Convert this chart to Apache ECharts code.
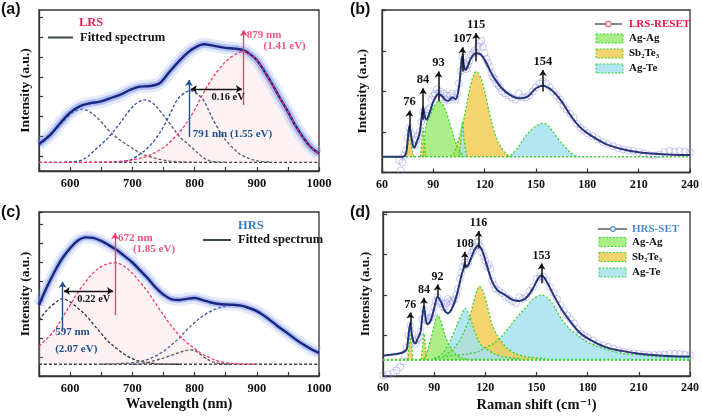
<!DOCTYPE html>
<html><head><meta charset="utf-8">
<script src="https://cdn.jsdelivr.net/npm/echarts@6/dist/echarts.min.js"></script>
<style>html,body{margin:0;padding:0;background:#fff}#c{width:702px;height:418px}</style>
</head><body><div id="c"></div>
<script>
// ---------------- DATA ----------------
const waveTicks = [600, 700, 800, 900, 1000];
const ramanTicks = [60, 90, 120, 150, 180, 210, 240];

// (a) LRS PL spectrum
const aFit = [[550,1.36],[568,1.82],[584,2.41],[600,2.95],[616,3.28],[632,3.42],[648,3.5],[664,3.67],[680,3.84],[696,4.09],[712,4.26],[728,4.29],[744,4.43],[760,5.02],[777,5.61],[790,6.0],[800,6.22],[815,6.4],[830,6.33],[850,6.22],[865,6.18],[880,6.08],[890,5.88],[900,5.6],[912,5.05],[925,4.38],[937,3.7],[950,3.0],[962,2.3],[975,1.68],[987,1.2],[1000,0.88]];
const aBase = [[550,0.44],[1000,0.44]];
const aComp1 = [[550,1.3],[568,1.78],[584,2.33],[600,2.85],[610,3.05],[620,3.12],[632,2.98],[648,2.55],[664,1.99],[680,1.57],[696,1.23],[712,0.92],[728,0.72],[744,0.59],[760,0.5],[777,0.46],[800,0.44]];
const aComp2 = [[590,0.44],[604,0.46],[616,0.52],[628,0.72],[640,1.06],[652,1.4],[664,1.78],[680,2.41],[696,3.08],[708,3.45],[720,3.59],[732,3.45],[744,3.05],[760,2.41],[776,1.73],[788,1.4],[800,1.06],[812,0.72],[824,0.52],[836,0.46],[850,0.44]];
const aComp3 = [[680,0.46],[696,0.55],[708,0.76],[724,1.15],[740,1.73],[756,2.58],[772,3.59],[783,3.92],[793,4.06],[803,3.92],[814,3.59],[830,2.58],[846,1.73],[862,1.15],[878,0.76],[900,0.52],[920,0.46]];
const aComp4 = [[550,0.44],[625,0.44],[650,0.45],[675,0.48],[700,0.56],[725,0.76],[750,1.19],[765,1.6],[782,2.2],[800,3.08],[812,3.8],[825,4.51],[837,5.05],[850,5.52],[865,5.88],[879,6.03],[890,5.88],[900,5.6],[912,5.05],[925,4.38],[937,3.7],[950,3.0],[962,2.3],[975,1.68],[987,1.2],[1000,0.88]];

// (b) LRS-RESET Raman
const bFit = [[60,0.39],[72,0.39],[74,0.47],[75,0.8],[76,1.15],[77,0.93],[78,0.68],[79,0.62],[80,0.72],[82,0.97],[83,1.3],[84,1.61],[85,1.38],[86,1.31],[88,1.5],[90,1.75],[93,1.94],[95,1.89],[97,1.79],[99,1.77],[101,1.85],[103,1.81],[105,2.12],[106,2.53],[107,2.9],[108,2.61],[109,2.53],[110,2.61],[112,2.82],[115,2.94],[117,2.93],[120,2.78],[123,2.53],[125,2.37],[130,2.08],[135,1.91],[140,1.83],[145,1.87],[150,2.08],[154,2.14],[160,2.0],[165,1.75],[170,1.42],[175,1.15],[180,0.97],[190,0.72],[200,0.58],[210,0.5],[220,0.46],[230,0.44],[240,0.43]];
const bMeas = [[70,0.3],[71,0.05],[72,0.25],[73,0.42],[74,0.55],[75,0.85],[76,1.1],[77,0.95],[78,0.7],[79,0.66],[80,0.8],[81,0.9],[82,1.0],[83,1.25],[84,1.5],[85,1.35],[86,1.4],[87,1.55],[88,1.6],[89,1.8],[90,1.9],[91,1.95],[92,2.05],[93,1.95],[94,2.0],[95,1.85],[96,1.95],[97,1.8],[98,1.9],[99,1.78],[100,1.9],[101,1.95],[102,1.85],[103,1.8],[104,1.95],[105,2.2],[106,2.5],[107,2.85],[108,2.7],[109,2.55],[110,2.65],[111,2.75],[112,2.9],[113,2.95],[114,3.0],[115,2.95],[116,3.1],[117,3.2],[118,3.25],[119,3.1],[120,2.95],[121,2.8],[122,2.7],[123,2.6],[124,2.45],[125,2.35],[126,2.3],[127,2.2],[128,2.15],[129,2.1],[130,2.0],[132,1.95],[134,1.9],[136,1.85],[138,1.8],[140,1.95],[142,1.85],[144,1.85],[146,1.9],[148,2.0],[150,2.1],[152,2.2],[154,2.25],[156,2.2],[158,2.1],[160,2.0],[162,1.9],[164,1.8],[166,1.65],[168,1.55],[170,1.45],[172,1.35],[174,1.2],[176,1.1],[178,1.05],[180,0.97],[183,0.9],[186,0.82],[189,0.75],[192,0.7],[195,0.65],[198,0.6],[201,0.57],[204,0.55],[207,0.53],[210,0.5],[213,0.47],[216,0.43],[219,0.42],[222,0.44],[225,0.5],[228,0.53],[231,0.52],[234,0.53],[237,0.52],[240,0.5]];
const bBase = [[60,0.39],[240,0.39]];
const bSb76 = [[73.5,0.39],[75,0.7],[76,1.0],[77,0.7],[78.5,0.39]];
const bSb84 = [[82.5,0.39],[83.4,0.85],[84,1.1],[84.6,0.85],[85.5,0.39]];
const bAg93 = [[84,0.39],[85,0.9],[86,1.2],[88,1.4],[90,1.6],[92,1.73],[93,1.75],[95,1.7],[97,1.55],[99,1.3],[101,1.0],[103,0.75],[105,0.56],[107,0.44],[108,0.39]];
const bTe107 = [[105,0.39],[106,0.75],[107,1.25],[108,0.8],[109.5,0.39]];
const bSb115 = [[100,0.39],[102,0.47],[104,0.7],[106,1.0],[108,1.35],[110,1.8],[112,2.2],[114,2.45],[115,2.49],[116,2.47],[118,2.3],[120,2.0],[122,1.62],[124,1.25],[126,0.95],[128,0.74],[130,0.6],[132,0.48],[134,0.42],[136,0.39]];
const bTe154 = [[133,0.39],[136,0.45],[140,0.65],[144,0.9],[148,1.08],[151,1.17],[154,1.21],[157,1.16],[160,1.0],[165,0.72],[170,0.5],[173,0.41],[175,0.39]];
const bPeaks = [76, 84, 93, 107, 115, 154];
const bArrowLo = [1.05, 1.3, 1.75, 2.49, 2.74, 2.0];
const bArrowHi = [1.53, 2.08, 2.49, 3.09, 3.44, 2.53];

// (c) HRS PL spectrum
const cFit = [[550,3.75],[562,4.65],[575,5.51],[587,6.2],[600,6.75],[612,7.15],[625,7.33],[637,7.3],[650,7.14],[662,6.92],[675,6.66],[687,6.35],[700,6.0],[712,5.6],[725,5.16],[737,4.7],[750,4.3],[762,4.07],[775,4.02],[787,4.08],[800,4.12],[812,4.02],[825,3.9],[837,3.82],[850,3.78],[862,3.77],[875,3.72],[887,3.6],[900,3.43],[912,3.18],[925,2.86],[937,2.55],[950,2.25],[962,1.95],[975,1.66],[987,1.43],[1000,1.22]];
const cBase = [[550,0.62],[1000,0.62]];
const cComp1 = [[550,2.95],[562,3.45],[575,3.84],[587,4.08],[600,3.92],[612,3.6],[625,3.22],[637,2.75],[650,2.25],[662,1.8],[675,1.45],[687,1.15],[700,0.92],[712,0.78],[725,0.7],[737,0.65],[750,0.63],[775,0.62]];
const cComp2 = [[550,1.58],[562,1.95],[575,2.42],[587,3.05],[600,3.75],[612,4.4],[625,4.98],[637,5.45],[650,5.78],[662,5.95],[672,5.99],[687,5.8],[700,5.43],[712,4.98],[725,4.45],[737,3.85],[750,3.22],[762,2.68],[775,2.16],[787,1.78],[800,1.45],[812,1.17],[825,0.95],[837,0.8],[850,0.71],[862,0.66],[875,0.64],[900,0.62]];
const cComp3 = [[700,0.62],[712,0.64],[725,0.72],[740,0.85],[755,1.0],[770,1.18],[783,1.32],[793,1.38],[803,1.3],[815,1.0],[830,0.74],[845,0.65],[860,0.62]];
const cComp4 = [[650,0.63],[675,0.65],[700,0.7],[712,0.76],[725,0.88],[737,1.05],[750,1.3],[762,1.62],[775,2.0],[787,2.42],[800,2.82],[812,3.15],[825,3.4],[837,3.58],[850,3.68],[862,3.74],[875,3.72],[887,3.6],[900,3.43],[912,3.18],[925,2.86],[937,2.55],[950,2.25],[962,1.95],[975,1.66],[987,1.43],[1000,1.22]];

// (d) HRS-SET Raman
const dFit = [[60,0.5],[70,0.56],[73,0.62],[74,0.68],[75,1.01],[76,1.3],[77,1.01],[78,0.83],[79,0.81],[80,0.89],[82,1.09],[83,1.46],[84,1.71],[85,1.42],[86,1.28],[88,1.38],[90,1.67],[92,1.96],[94,1.83],[96,1.63],[98,1.55],[100,1.63],[102,1.83],[104,2.12],[106,2.49],[107,2.62],[108,2.78],[109,2.7],[110,2.74],[112,2.95],[114,3.14],[116,3.22],[118,3.11],[120,2.86],[122,2.58],[124,2.33],[127,2.12],[130,2.04],[133,1.96],[136,1.88],[140,1.85],[144,1.93],[148,2.17],[151,2.41],[153,2.48],[156,2.33],[160,2.0],[165,1.63],[170,1.34],[175,1.08],[180,0.93],[190,0.72],[200,0.62],[210,0.55],[220,0.51],[230,0.49],[240,0.48]];
const dMeas = [[60,0.02],[63,0.04],[66,0.08],[68,0.14],[70,0.22],[72,0.36],[73,0.5],[74,0.7],[75,1.0],[76,1.25],[77,1.05],[78,0.85],[79,0.8],[80,0.9],[81,0.95],[82,1.1],[83,1.4],[84,1.65],[85,1.45],[86,1.35],[87,1.4],[88,1.45],[89,1.55],[90,1.7],[91,1.85],[92,1.95],[93,1.85],[94,1.8],[95,1.7],[96,1.7],[97,1.8],[98,1.9],[99,1.85],[100,1.8],[101,1.85],[102,1.9],[103,2.0],[104,2.15],[105,2.4],[106,2.55],[107,2.7],[108,2.8],[109,2.75],[110,2.8],[111,2.95],[112,3.05],[113,3.1],[114,3.2],[115,3.3],[116,3.3],[117,3.2],[118,3.05],[119,2.95],[120,2.85],[121,2.7],[122,2.75],[123,2.65],[124,2.35],[125,2.25],[126,2.15],[128,2.1],[130,2.05],[132,1.95],[134,1.9],[136,1.85],[138,1.8],[140,1.95],[142,1.9],[144,1.95],[146,2.1],[148,2.2],[150,2.4],[152,2.45],[154,2.45],[156,2.35],[158,2.2],[160,2.05],[162,1.9],[164,1.75],[166,1.6],[168,1.5],[170,1.4],[172,1.3],[174,1.15],[176,1.05],[178,1.0],[180,0.95],[183,0.88],[186,0.8],[189,0.75],[192,0.72],[195,0.68],[198,0.63],[201,0.6],[204,0.58],[207,0.56],[210,0.55],[213,0.53],[216,0.52],[219,0.52],[222,0.52],[225,0.53],[228,0.55],[231,0.55],[234,0.54],[237,0.53],[240,0.52]];
const dBase = [[60,0.4],[240,0.4]];
const dSb76 = [[74.5,0.4],[75.3,0.75],[76,1.01],[76.7,0.75],[77.5,0.4]];
const dSb84 = [[82.5,0.4],[83.3,0.8],[84,1.05],[84.7,0.8],[85.5,0.4]];
const dAg92 = [[84,0.42],[86,0.62],[88,0.9],[90,1.25],[92,1.5],[94,1.35],[96,1.05],[98,0.82],[100,0.68],[103,0.52],[106,0.45],[110,0.41]];
const dTe108 = [[90,0.43],[94,0.52],[97,0.68],[100,0.92],[103,1.22],[106,1.52],[108,1.67],[110.5,1.5],[113,1.2],[115.5,0.9],[118,0.74],[121.5,0.64],[125,0.55],[130,0.48],[140,0.43]];
const dSb116 = [[96,0.5],[100,0.62],[104,0.81],[107,1.05],[110,1.34],[113,1.8],[115,2.1],[116.5,2.22],[119,2.05],[121,1.75],[124,1.26],[127,1.0],[129.5,0.85],[133,0.68],[138,0.55],[145,0.47],[155,0.43]];
const dTe153 = [[90,0.44],[100,0.5],[110,0.55],[116,0.6],[120,0.7],[125,0.81],[130,1.0],[135,1.26],[140,1.52],[145,1.75],[148,1.9],[153,2.0],[156,1.95],[160,1.75],[165,1.38],[170,1.14],[175,0.97],[180,0.83],[190,0.67],[200,0.56],[210,0.52],[220,0.48],[240,0.45]];
const dPeaks = [76, 84, 92, 108, 116, 153];
const dArrowLo = [1.26, 1.67, 1.96, 2.66, 3.15, 2.29];
const dArrowHi = [1.57, 1.93, 2.26, 3.07, 3.58, 2.78];

// ---------------- STYLE / BUILD ----------------
const SERIF = "'Liberation Serif','Times New Roman','DejaVu Serif',serif";
const SANS = "'Liberation Sans',Arial,sans-serif";
const GREEN = 'rgba(150,232,105,0.8)', YELLOW = 'rgba(243,200,75,0.8)', CYAN = 'rgba(165,226,240,0.85)';
const EDGE = '#36d62a';

const chart = echarts.init(document.getElementById('c'));

function ln(g, data, color, width, type, extra) {
  return Object.assign({type:'line', xAxisIndex:g, yAxisIndex:g, data:data, showSymbol:false, symbol:'none',
    smooth:0.35, silent:true, lineStyle:{color:color, width:width, type:type}}, extra || {});
}
function area(g, data, fill, base) {
  return ln(g, data, EDGE, 1.3, [2, 2], {smooth:0.3, areaStyle:{color:fill, opacity:1, origin:base}});
}
function grad(stops) {
  return new echarts.graphic.LinearGradient(0, 0, 1, 0, stops.map(s => ({offset:s[0], color:s[1]})));
}
function txt(x, y, s, color, size, pos) {
  return {coord:[x, y], symbol:'circle', symbolSize:0,
    label:{show:true, position:pos || 'right', distance:0, formatter:s, color:color, fontSize:size, fontWeight:'bold', fontFamily:SERIF}};
}
function arrow(x1, y1, x2, y2, color, both) {
  return [{coord:[x1, y1], symbol: both ? 'arrow' : 'none', lineStyle:{color:color, width:1.4, type:'solid'}},
          {coord:[x2, y2], symbol:'arrow', lineStyle:{color:color, width:1.4, type:'solid'}}];
}
function peakArrows(peaks, lo, hi, fs) {
  return peaks.map((p, i) => {
    const lab = {show:true, position:'end', distance:2, formatter:String(p), color:'#111', fontSize:fs, fontWeight:'bold', fontFamily:SERIF};
    return [{coord:[p, lo[i]], symbol:'none', lineStyle:{color:'#111', width:1.5, type:'solid'}, label:lab},
            {coord:[p, hi[i]], symbol:'arrow', lineStyle:{color:'#111', width:1.5, type:'solid'}, label:lab}];
  });
}

const axisLineS = {show:true, lineStyle:{color:'#333', width:1.3}};
const tickS = {show:true, inside:true, length:4, lineStyle:{color:'#333', width:1.2}};
const labS = {fontFamily:SERIF, fontWeight:'bold', fontSize:12.5, color:'#111', margin:6};
const nameS = {fontFamily:SERIF, fontWeight:'bold', fontSize:13.5, color:'#111'};

function xWave(g, name) {
  return {type:'value', gridIndex:g, min:550, max:1000, interval:50, axisLine:axisLineS, axisTick:tickS, splitLine:{show:false},
    axisLabel:Object.assign({}, labS, {formatter: v => waveTicks.includes(v) ? String(v) : ''}),
    name:name || '', nameLocation:'middle', nameGap:21, nameTextStyle:Object.assign({}, nameS, {fontSize:14.5})};
}
function xRaman(g, name) {
  return {type:'value', gridIndex:g, min:60, max:240, interval:30, axisLine:axisLineS, axisTick:tickS, splitLine:{show:false},
    axisLabel:Object.assign({}, labS, {fontSize:12, formatter: v => ramanTicks.includes(v) ? String(v) : ''}),
    name:name || '', nameLocation:'middle', nameGap:22, nameTextStyle:Object.assign({}, nameS, {fontSize:14.5})};
}
function yAx(g, max, gap, custom) {
  const t = Object.assign({}, tickS);
  const o = {type:'value', gridIndex:g, min:0, max:max, axisLine:axisLineS, axisTick:t, splitLine:{show:false},
    axisLabel:{show:false}, name:'Intensity (a.u.)', nameLocation:'middle', nameRotate:90, nameGap:gap, nameTextStyle:nameS};
  if (custom) { t.customValues = custom; } else { o.interval = 1; }
  return o;
}

const aTicks = [0.75, 1.75, 2.75, 3.75, 4.75, 5.75, 6.75, 7.75];
const blueGray = (o1, o2) => grad([[0,'#2446b8'],[o1,'#2d4aa8'],[o2,'#5a5a60'],[1,'#606066']]);

const series = [
  // ----- (a)
  ln(0, aComp4, 'rgba(0,0,0,0)', 0, 'solid', {areaStyle:{color:'rgba(246,200,205,0.35)', origin:0.44}}),
  ln(0, aBase, '#444', 1.3, [3,2], {
    markLine:{silent:true, symbolSize:6, animation:false, label:{show:false},
      data:[arrow(879, 3.33, 879, 7.12, '#ff3a6a', false), arrow(791, 1.72, 791, 4.6, '#1f4f90', false), arrow(794, 4.14, 876, 4.14, '#111', true)]},
    markPoint:{silent:true, animation:false, data:[
      txt(884, 6.87, '879 nm', '#f2557c', 11), txt(911, 6.31, '(1.41 eV)', '#f2557c', 11),
      txt(797, 1.87, '791 nm (1.55 eV)', '#1f4f90', 11), txt(854, 3.74, '0.16 eV', '#111', 10.5, 'inside')]}
  }),
  ln(0, aComp1, blueGray(0.25, 0.55), 1.3, [3,2]),
  ln(0, aComp2, blueGray(0.5, 0.8), 1.3, [3,2]),
  ln(0, aComp3, blueGray(0.45, 0.75), 1.3, [3,2]),
  ln(0, aFit, 'rgba(130,160,235,0.22)', 13, 'solid'),
  ln(0, aFit, 'rgba(105,140,230,0.45)', 7, 'solid'),
  ln(0, aFit, '#1c2380', 2.4, 'solid'),
  ln(0, aComp4, '#ff3366', 1.3, [3,2]),

  // ----- (b)
  ln(1, bBase, EDGE, 1.6, [2,2], {
    markLine:{silent:true, symbolSize:6, animation:false, data:peakArrows(bPeaks, bArrowLo, bArrowHi, 12.5)}}),
  area(1, bTe154, CYAN, 0.39),
  area(1, bSb115, YELLOW, 0.39),
  area(1, bTe107, CYAN, 0.39),
  area(1, bAg93, GREEN, 0.39),
  area(1, bSb84, YELLOW, 0.39),
  area(1, bSb76, YELLOW, 0.39),
  {type:'scatter', xAxisIndex:1, yAxisIndex:1, data:bMeas, symbol:'circle', symbolSize:7, silent:true,
    itemStyle:{color:'rgba(255,255,255,0)', borderColor:'rgba(140,140,232,0.6)', borderWidth:1}},
  ln(1, bFit, '#263478', 2, 'solid'),

  // ----- (c)
  ln(2, cComp2, 'rgba(0,0,0,0)', 0, 'solid', {areaStyle:{color:'rgba(246,200,205,0.35)', origin:0.62}}),
  ln(2, cBase, '#444', 1.3, [3,2], {
    markLine:{silent:true, symbolSize:6, animation:false, label:{show:false},
      data:[arrow(672, 3.22, 672, 7.55, '#ff3a6a', false), arrow(588, 2.42, 588, 4.98, '#1f4f90', false), arrow(590, 4.5, 669, 4.5, '#111', true)]},
    markPoint:{silent:true, animation:false, data:[
      txt(677, 7.3, '672 nm', '#f2557c', 11), txt(701, 6.71, '(1.85 eV)', '#f2557c', 11),
      txt(576, 2.32, '597 nm', '#1f4f90', 11), txt(576, 1.41, '(2.07 eV)', '#1f4f90', 11),
      txt(638, 4.06, '0.22 eV', '#111', 10.5, 'inside')]}
  }),
  ln(2, cComp1, '#333', 1.3, [3,2]),
  ln(2, cComp3, '#555', 1.3, [3,2]),
  ln(2, cComp4, grad([[0,'#666'],[0.35,'#4a55a0'],[0.55,'#2448c8'],[1,'#2448c8']]), 1.3, [3,2]),
  ln(2, cFit, 'rgba(130,160,235,0.22)', 12, 'solid'),
  ln(2, cFit, 'rgba(105,140,230,0.45)', 6, 'solid'),
  ln(2, cFit, '#1c2380', 2.4, 'solid'),
  ln(2, cComp2, '#ff3366', 1.3, [3,2]),

  // ----- (d)
  ln(3, dBase, EDGE, 2.2, [2,2], {
    markLine:{silent:true, symbolSize:6, animation:false, data:peakArrows(dPeaks, dArrowLo, dArrowHi, 12)}}),
  area(3, dTe153, CYAN, 0.4),
  area(3, dSb116, YELLOW, 0.4),
  area(3, dTe108, CYAN, 0.4),
  area(3, dAg92, GREEN, 0.4),
  area(3, dSb84, YELLOW, 0.4),
  area(3, dSb76, YELLOW, 0.4),
  {type:'scatter', xAxisIndex:3, yAxisIndex:3, data:dMeas, symbol:'circle', symbolSize:7, silent:true,
    itemStyle:{color:'rgba(255,255,255,0)', borderColor:'rgba(140,140,232,0.6)', borderWidth:1}},
  ln(3, dFit, '#263478', 2, 'solid')
];

function T(x, y, text, font, fill, align) {
  return {type:'text', x:x, y:y, silent:true, z:100,
    style:{text:text, font:font, fill:fill, align:align || 'left', verticalAlign:'middle', textAlign:align || 'left', textVerticalAlign:'middle'}};
}
const bf = s => 'bold ' + s + 'px ' + SERIF;
function boxes(x, ys, tx) {
  const fills = [GREEN, YELLOW, CYAN], names = ['Ag-Ag', 'Sb₂Te₃', 'Ag-Te'];
  const out = [];
  ys.forEach((y, i) => {
    out.push({type:'rect', silent:true, z:100, shape:{x:x, y:y - 4.5, width:27, height:9},
      style:{fill:fills[i], stroke:EDGE, lineWidth:1, lineDash:[2,1.5]}});
    out.push(T(tx, y, names[i], bf(11), '#111'));
  });
  return out;
}

const graphic = [
  T(1, 10, '(a)', 'bold 16px ' + SANS, '#111'),
  T(350, 10, '(b)', 'bold 16px ' + SANS, '#111'),
  T(1, 213, '(c)', 'bold 16px ' + SANS, '#111'),
  T(350, 213, '(d)', 'bold 16px ' + SANS, '#111'),
  // (a) legend
  T(79, 23, 'LRS', bf(12.5), '#ee2255'),
  {type:'line', silent:true, z:100, shape:{x1:48, y1:37.5, x2:73, y2:37.5}, style:{stroke:'#3d4848', lineWidth:2}},
  T(80, 37.5, 'Fitted spectrum', bf(12.5), '#111'),
  // (c) legend
  T(238, 225.5, 'HRS', bf(12.5), '#3b7dc4'),
  {type:'line', silent:true, z:100, shape:{x1:203, y1:240, x2:231, y2:240}, style:{stroke:'#3d4848', lineWidth:2}},
  T(238, 240, 'Fitted spectrum', bf(12.5), '#111'),
  // (b) legend
  {type:'line', silent:true, z:100, shape:{x1:595, y1:24, x2:622, y2:24}, style:{stroke:'#7d8894', lineWidth:2}},
  {type:'circle', silent:true, z:101, shape:{cx:608.5, cy:24, r:2.6}, style:{fill:'#fff', stroke:'#f06080', lineWidth:1.2}},
  T(629, 24, 'LRS-RESET', bf(11), '#ee1144'),
  ...boxes(596, [38.5, 53.5, 68.5], 629),
  // (d) legend
  {type:'line', silent:true, z:100, shape:{x1:598, y1:229, x2:627, y2:229}, style:{stroke:'#7d8894', lineWidth:2}},
  {type:'circle', silent:true, z:101, shape:{cx:613, cy:229, r:2.3}, style:{fill:'#fff', stroke:'#5a8fd0', lineWidth:1.2}},
  T(632, 229, 'HRS-SET', bf(11), '#4a8ad4'),
  ...boxes(599, [242, 257, 272.5], 632)
];

const gridS = {show:true, borderColor:'#333', borderWidth:1.3, backgroundColor:'rgba(0,0,0,0)'};
chart.setOption({
  animation:false,
  grid:[
    Object.assign({left:39, top:10, width:280, height:161}, gridS),
    Object.assign({left:382, top:10, width:309.5, height:162.5}, gridS),
    Object.assign({left:39, top:212, width:280, height:164}, gridS),
    Object.assign({left:383, top:212, width:309, height:164}, gridS)
  ],
  xAxis:[xWave(0), xRaman(1), xWave(2, 'Wavelength (nm)'), xRaman(3, 'Raman shift (cm⁻¹)')],
  yAxis:[yAx(0, 8.13, 6, aTicks), yAx(1, 4.01, 12), yAx(2, 8.67, 6), yAx(3, 4.05, 10)],
  series:series,
  graphic:graphic
});
</script></body></html>
